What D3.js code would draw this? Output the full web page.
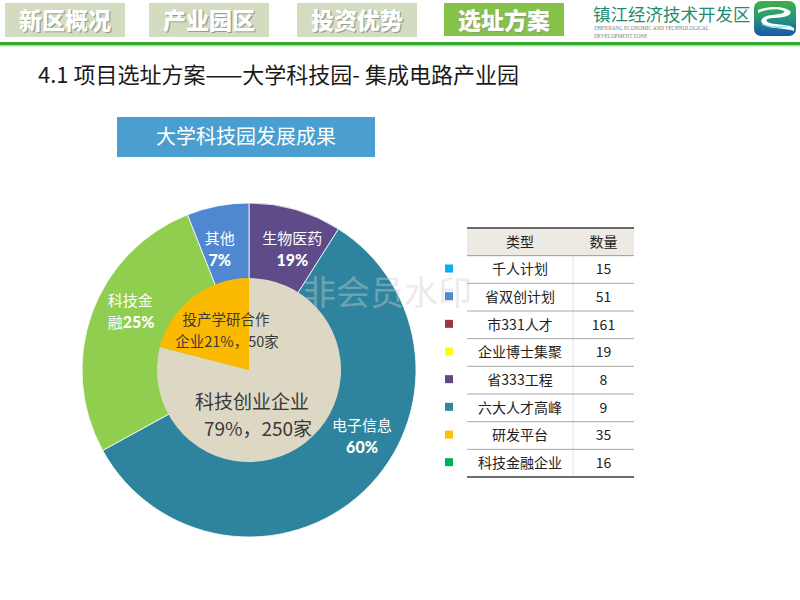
<!DOCTYPE html>
<html>
<head>
<meta charset="utf-8">
<script src="https://cdn.jsdelivr.net/npm/d3@7"></script>
<style>
  html, body { margin: 0; padding: 0; background: #fff; }
  svg { display: block; font-family: "Noto Sans CJK SC", "Noto Sans", sans-serif; }
</style>
</head>
<body>
<div id="vis-container"></div>
<script>
// ---- data ----
const tabNames = ["新区概况", "产业园区", "投资优势", "选址方案"];
const activeTab = "选址方案";

const pageTitle = "4.1 项目选址方案——大学科技园- 集成电路产业园";
const boxTitle = "大学科技园发展成果";

// outer ring, clockwise from 12 o'clock (shares)
const outerNames = ["生物医药", "电子信息", "科技金融", "其他"];
const outerShares = [9, 58, 27, 6];
const outerLabels = ["19%", "60%", "25%", "7%"];

// inner pie
const innerNames = ["科技创业企业", "投产学研合作企业"];
const innerPct = [79, 21];
const innerCounts = [250, 50];

// talent table
const tableHeader = ["类型", "数量"];
const tableTypes = ["千人计划", "省双创计划", "市331人才", "企业博士集聚", "省333工程", "六大人才高峰", "研发平台", "科技金融企业"];
const tableCounts = [15, 51, 161, 19, 8, 9, 35, 16];

// ---- styles ----
const outerColors = ["#5f4a8a", "#2e849e", "#8fce4f", "#4f87d1"];
const innerColors = ["#ddd8c4", "#fbb900"];
const legendColors = ["#00b0f0", "#5588d2", "#a0363a", "#ffff00", "#604a7b", "#31849b", "#ffc000", "#00b050"];

const cx = 249, cy = 370,
    outerR = 167,
    innerR = 92;

let svg = d3.select("#vis-container")
    .append("svg")
    .attr("width", 800)
    .attr("height", 600)
    .attr("viewBox", "0 0 800 600");

// ---- header tabs ----
const tabX = d3.scaleOrdinal()
    .domain(tabNames)
    .range([5, 149, 297, 444]);
const tabW = 120;

let tabs = svg.selectAll(".tab")
    .data(tabNames)
    .enter().append("g")
    .attr("class", "tab")
    .attr("transform", d => `translate(${tabX(d)},3)`);

tabs.append("rect")
    .attr("width", tabW)
    .attr("height", d => d === activeTab ? 33 : 34)
    .attr("fill", d => d === activeTab ? "#86c24a" : "#d3dbc0");

tabs.append("text")
    .attr("x", tabW / 2 + 1.2)
    .attr("y", 27.2)
    .attr("text-anchor", "middle")
    .attr("font-size", 23)
    .attr("font-weight", 900)
    .attr("fill", "#8a8f80")
    .attr("opacity", d => d === activeTab ? 0.6 : 0.8)
    .text(d => d);

tabs.append("text")
    .attr("x", tabW / 2)
    .attr("y", 26)
    .attr("text-anchor", "middle")
    .attr("font-size", 23)
    .attr("font-weight", 900)
    .attr("fill", "#fff")
    .text(d => d);

// green rule under the header
svg.append("rect").attr("x", 0).attr("y", 42).attr("width", 800).attr("height", 3).attr("fill", "#36a832");
svg.append("rect").attr("x", 0).attr("y", 45).attr("width", 800).attr("height", 1.5).attr("fill", "#a9dba2");

// ---- logo ----
let logo = svg.append("g").attr("transform", "translate(593,0)");
logo.append("text")
    .attr("x", 0).attr("y", 21)
    .attr("font-size", 17.5)
    .attr("fill", "#1f8c72")
    .text("镇江经济技术开发区");
logo.append("text")
    .attr("x", 1).attr("y", 30)
    .attr("font-size", 5.2)
    .attr("fill", "#7a7a7a")
    .attr("font-family", "Liberation Serif")
    .text("ZHENJIANG ECONOMIC  AND TECHNOLOGICAL");
logo.append("text")
    .attr("x", 1).attr("y", 38)
    .attr("font-size", 5.2)
    .attr("fill", "#7a7a7a")
    .attr("font-family", "Liberation Serif")
    .text("DEVELOPMENT ZONE");

let grad = svg.append("defs").append("linearGradient")
    .attr("id", "logoGrad")
    .attr("x1", 0).attr("y1", 0).attr("x2", 0).attr("y2", 1);
grad.append("stop").attr("offset", "0%").attr("stop-color", "#3fae45");
grad.append("stop").attr("offset", "45%").attr("stop-color", "#2a9a78");
grad.append("stop").attr("offset", "100%").attr("stop-color", "#1456a8");

let icon = svg.append("g").attr("transform", "translate(754,1)");
icon.append("rect")
    .attr("width", 42).attr("height", 35)
    .attr("rx", 7)
    .attr("fill", "url(#logoGrad)");
icon.append("path")
    .attr("fill", "#fff")
    .attr("d", "M4,9 C14,5 30,5 36,10 C39,14 30,17 20,17 C12,17 10,20 16,22 C24,24 34,23 40,27 L40,30 C32,27 20,28 12,25 C4,22 6,15 18,14 C26,13 32,12 30,10 C24,7 12,8 4,12 Z");
icon.append("path")
    .attr("fill", "#7fd0e8")
    .attr("opacity", 0.8)
    .attr("d", "M8,22 C14,26 26,26 38,24 C30,28 18,28 8,24 Z");

// ---- page title ----
svg.append("text")
    .attr("x", 38).attr("y", 83)
    .attr("font-size", 22)
    .attr("fill", "#1a1a1a")
    .text(pageTitle);

// ---- blue caption box ----
svg.append("rect")
    .attr("x", 117).attr("y", 117)
    .attr("width", 258).attr("height", 40)
    .attr("fill", "#4a9fd0");
svg.append("text")
    .attr("x", 246).attr("y", 144)
    .attr("text-anchor", "middle")
    .attr("font-size", 20)
    .attr("fill", "#fff")
    .text(boxTitle);

// ---- pie ----
let pieG = svg.append("g").attr("transform", `translate(${cx},${cy})`);

const outerColor = d3.scaleOrdinal().domain(outerNames).range(outerColors);
const innerColor = d3.scaleOrdinal().domain(innerNames).range(innerColors);

let outerPie = d3.pie().sort(null).value(i => outerShares[i]);
let innerPie = d3.pie().sort(null).value(i => innerPct[i]);

let outerArc = d3.arc().innerRadius(0).outerRadius(outerR);
let innerArc = d3.arc().innerRadius(0).outerRadius(innerR);
let labelArc = d3.arc().innerRadius(130).outerRadius(130);

let outerSlices = outerPie(d3.range(outerNames.length));
pieG.selectAll(".outer")
    .data(outerSlices)
    .enter().append("path")
    .attr("class", "outer")
    .attr("d", outerArc)
    .attr("fill", d => outerColor(outerNames[d.data]))
    .attr("stroke", "#fff")
    .attr("stroke-width", 0.8);

let innerSlices = innerPie(d3.range(innerNames.length));
pieG.selectAll(".inner")
    .data(innerSlices)
    .enter().append("path")
    .attr("class", "inner")
    .attr("d", innerArc)
    .attr("fill", d => innerColor(innerNames[d.data]));

// watermark
svg.append("text")
    .attr("x", 302).attr("y", 305)
    .attr("font-size", 34)
    .attr("fill", "#cfcfcf")
    .attr("opacity", 0.4)
    .text("非会员水印");

// outer labels: centroid of a mid-ring arc, nudged to sit like the slide
const outerNudge = {"生物医药": [7, 4], "电子信息": [24, -29], "科技金融": [-2, -15], "其他": [-5, 7]};

let outerLab = pieG.selectAll(".outer-label")
    .data(outerSlices)
    .enter().append("text")
    .attr("class", "outer-label")
    .attr("fill", "#fff")
    .attr("font-size", 15)
    .attr("text-anchor", "middle")
    .attr("transform", d => {
        let c = labelArc.centroid(d), n = outerNudge[outerNames[d.data]];
        return `translate(${c[0] + n[0]},${c[1] + n[1]})`;
    });

outerLab.each(function(d){
    let name = outerNames[d.data],
        t = d3.select(this);
    if(name === "科技金融"){
        // wrapped over two lines, the percent follows the last character
        t.attr("text-anchor", "start");
        t.append("tspan").attr("x", -17).attr("y", -5).text("科技金");
        let l2 = t.append("tspan").attr("x", -17).attr("y", 17);
        l2.append("tspan").text("融");
        l2.append("tspan").attr("font-family", "Lato").attr("font-weight", 900).attr("font-size", 16).text(outerLabels[d.data]);
    } else {
        t.append("tspan").attr("x", 0).attr("y", -5).text(name);
        t.append("tspan").attr("x", 0).attr("y", 17)
            .attr("font-family", "Lato").attr("font-weight", 900).attr("font-size", 16)
            .text(outerLabels[d.data]);
    }
});

// inner labels
let bigIdx = 0, smallIdx = 1;
let bigLab = pieG.append("text")
    .attr("text-anchor", "middle")
    .attr("fill", "#3a3a3a")
    .attr("font-size", 19);
bigLab.append("tspan").attr("x", 3).attr("y", 39).text(innerNames[bigIdx]);
bigLab.append("tspan").attr("x", 9).attr("y", 66).text(`${innerPct[bigIdx]}%，${innerCounts[bigIdx]}家`);

let smallLab = pieG.append("text")
    .attr("text-anchor", "middle")
    .attr("fill", "#3a3a3a")
    .attr("font-size", 14.5);
smallLab.append("tspan").attr("x", -23).attr("y", -45).text(innerNames[smallIdx].slice(0, 6));
smallLab.append("tspan").attr("x", -22).attr("y", -23).text(`${innerNames[smallIdx].slice(6)}${innerPct[smallIdx]}%，${innerCounts[smallIdx]}家`);

// ---- table ----
const tblX0 = 467, tblX1 = 634, colSplit = 573;
let rowY = d3.scaleBand()
    .domain(d3.range(tableTypes.length + 1))
    .range([228, 477]);

let tbl = svg.append("g");

tbl.append("rect")
    .attr("x", tblX0).attr("y", rowY(0))
    .attr("width", tblX1 - tblX0).attr("height", rowY.bandwidth())
    .attr("fill", "#eceae2");

tbl.append("line")
    .attr("x1", colSplit).attr("x2", colSplit)
    .attr("y1", rowY(1)).attr("y2", 477)
    .attr("stroke", "#e3e3e3");

tbl.selectAll(".row-line")
    .data(d3.range(1, tableTypes.length))
    .enter().append("line")
    .attr("x1", tblX0).attr("x2", tblX1)
    .attr("y1", d => rowY(d + 1)).attr("y2", d => rowY(d + 1))
    .attr("stroke", "#a6a6a6");

[228, rowY(1), 477].forEach((y, i) => {
    tbl.append("line")
        .attr("x1", tblX0).attr("x2", tblX1)
        .attr("y1", y).attr("y2", y)
        .attr("stroke", i === 1 ? "#9a9a9a" : "#6b6b6b")
        .attr("stroke-width", i === 1 ? 1 : 1.8);
});

tbl.selectAll(".head")
    .data(tableHeader)
    .enter().append("text")
    .attr("x", (d, i) => i === 0 ? (tblX0 + colSplit) / 2 : (colSplit + tblX1) / 2)
    .attr("y", rowY(0) + rowY.bandwidth() / 2 + 5)
    .attr("text-anchor", "middle")
    .attr("font-size", 14)
    .attr("fill", "#222")
    .text(d => d);

let rows = tbl.selectAll(".row")
    .data(tableTypes)
    .enter().append("g")
    .attr("class", "row")
    .attr("transform", (d, i) => `translate(0,${rowY(i + 1)})`);

rows.append("rect")
    .attr("x", 445)
    .attr("y", rowY.bandwidth() / 2 - 5)
    .attr("width", 8).attr("height", 8)
    .attr("fill", (d, i) => legendColors[i]);

rows.append("text")
    .attr("x", (tblX0 + colSplit) / 2)
    .attr("y", rowY.bandwidth() / 2 + 5)
    .attr("text-anchor", "middle")
    .attr("font-size", 14)
    .attr("fill", "#222")
    .text(d => d);

rows.append("text")
    .attr("x", (colSplit + tblX1) / 2)
    .attr("y", rowY.bandwidth() / 2 + 5)
    .attr("text-anchor", "middle")
    .attr("font-size", 14)
    .attr("fill", "#222")
    .text((d, i) => tableCounts[i]);
</script>
</body>
</html>
